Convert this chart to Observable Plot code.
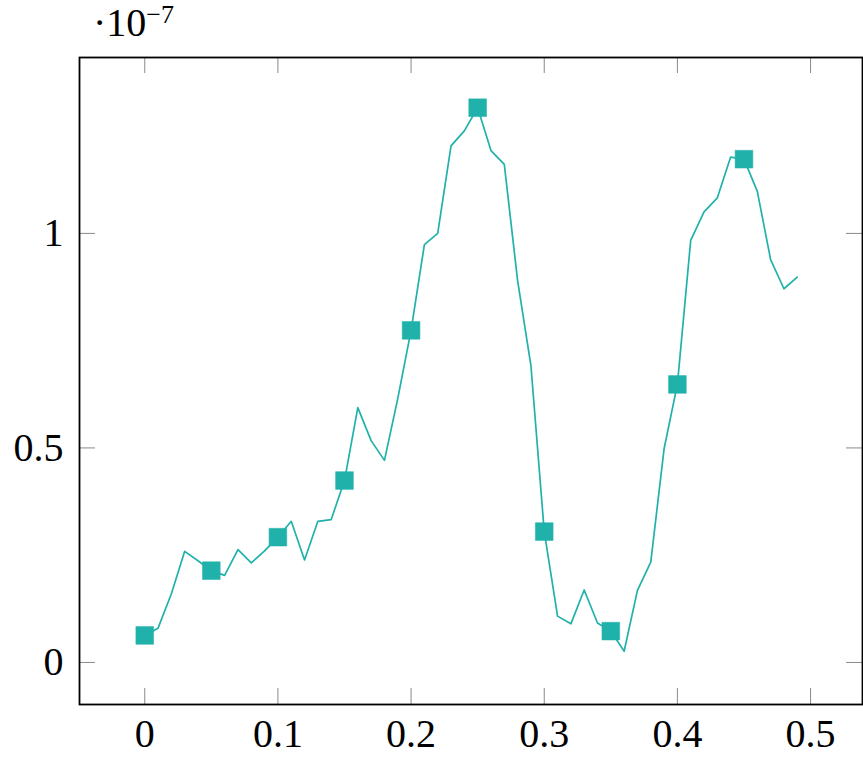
<!DOCTYPE html>
<html><head><meta charset="utf-8">
<script src="https://cdn.jsdelivr.net/npm/d3@7"></script>
<script src="https://cdn.jsdelivr.net/npm/@observablehq/plot@0.6"></script>
<style>body{margin:0;background:#fff;} #chart{width:863px;height:758px;}</style>
</head><body><div id="chart"></div>
<script>
const xValues = [0.00,0.01,0.02,0.03,0.04,0.05,0.06,0.07,0.08,0.09,
                 0.10,0.11,0.12,0.13,0.14,0.15,0.16,0.17,0.18,0.19,
                 0.20,0.21,0.22,0.23,0.24,0.25,0.26,0.27,0.28,0.29,
                 0.30,0.31,0.32,0.33,0.34,0.35,0.36,0.37,0.38,0.39,
                 0.40,0.41,0.42,0.43,0.44,0.45,0.46,0.47,0.48,0.49];
// values in units of 1e-7
const yValues = [0.063,0.080,0.160,0.259,0.237,0.214,0.203,0.263,0.232,0.260,
                 0.292,0.329,0.239,0.329,0.333,0.424,0.594,0.517,0.471,0.615,
                 0.774,0.974,1.000,1.204,1.239,1.293,1.193,1.161,0.890,0.692,
                 0.305,0.108,0.090,0.169,0.092,0.073,0.026,0.168,0.234,0.498,
                 0.648,0.984,1.050,1.083,1.178,1.173,1.098,0.939,0.871,0.898];
const markEvery = 5;
const xTicks = [0, 0.1, 0.2, 0.3, 0.4, 0.5];
const xTickLabels = ["0", "0.1", "0.2", "0.3", "0.4", "0.5"];
const yTicks = [0, 0.5, 1];
const yTickLabels = ["0", "0.5", "1"];
const scaleBase = "·10";
const scaleExponent = "−7";

const W = 863, H = 758;
const mL = 79, mR = 1, mT = 57, mB = 54;
const frameW = W - mL - mR, frameH = H - mT - mB;
const tickLen = 16;
const color = "#20B2AA";
const font = "'Liberation Serif', 'DejaVu Serif', serif";

const data = xValues.map((x, i) => ({x, y: yValues[i], i}));
const marked = data.filter(d => d.i % markEvery === 0);

const plot = Plot.plot({
  width: W, height: H,
  marginLeft: mL, marginRight: mR, marginTop: mT, marginBottom: mB,
  style: {fontFamily: font, fontSize: "40px", background: "#fff", color: "#000"},
  x: {domain: [-0.049, 0.539]},
  y: {domain: [-0.098, 1.41]},
  marks: [
    Plot.ruleX(xTicks, {x: d => d, insetTop: frameH - tickLen, stroke: "#8a8a8a", strokeWidth: 1}),
    Plot.ruleX(xTicks, {x: d => d, insetBottom: frameH - tickLen, stroke: "#8a8a8a", strokeWidth: 1}),
    Plot.ruleY(yTicks, {y: d => d, insetRight: frameW - tickLen, stroke: "#8a8a8a", strokeWidth: 1}),
    Plot.ruleY(yTicks, {y: d => d, insetLeft: frameW - tickLen, stroke: "#8a8a8a", strokeWidth: 1}),
    Plot.axisX(xTicks, {anchor: "bottom", tickSize: 0, tickPadding: 14,
      tickFormat: d => xTickLabels[xTicks.indexOf(d)], label: null}),
    Plot.axisY(yTicks, {anchor: "left", tickSize: 0, tickPadding: 16,
      tickFormat: d => yTickLabels[yTicks.indexOf(d)], label: null}),
    Plot.line(data, {x: "x", y: "y", stroke: color, strokeWidth: 1.7}),
    Plot.dot(marked, {x: "x", y: "y", symbol: "square", r: 10, fill: color, stroke: color, strokeWidth: 0.5}),
    Plot.frame({stroke: "#000", strokeWidth: 1.8})
  ]
});

const svg = d3.select(plot);
const t = svg.append("text")
  .attr("x", 93).attr("y", 36)
  .attr("text-anchor", "start")
  .attr("font-family", font).attr("font-size", 40).attr("fill", "#000");
t.append("tspan").text(scaleBase);
t.append("tspan").attr("font-size", 26).attr("dy", -13).text(scaleExponent);

document.getElementById("chart").appendChild(plot);
</script>
</body></html>
